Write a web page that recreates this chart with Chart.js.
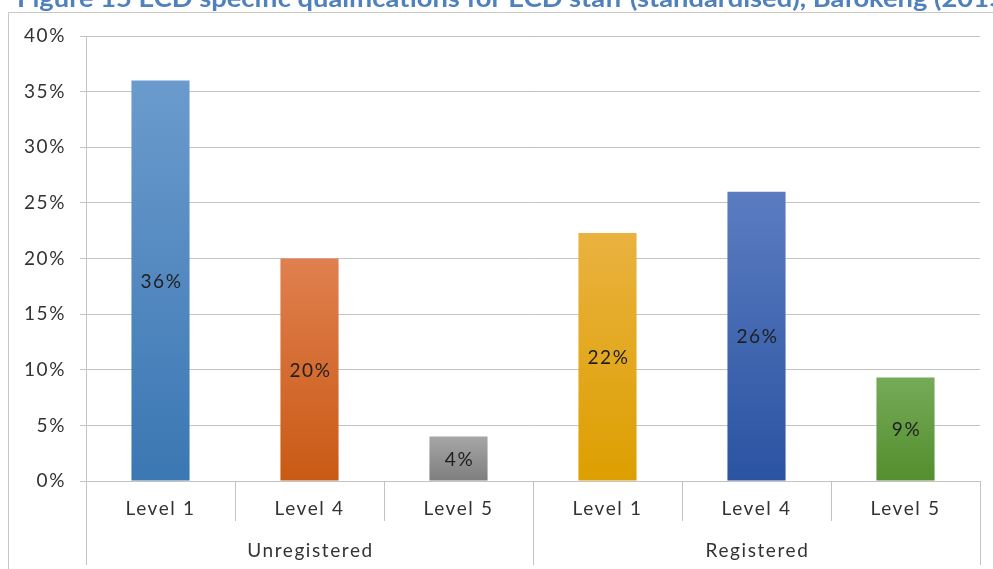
<!DOCTYPE html>
<html>
<head>
<meta charset="utf-8">
<script src="https://cdn.jsdelivr.net/npm/chart.js@4"></script>
<style>
  html, body { margin: 0; padding: 0; background: #ffffff; }
  #wrap { width: 993px; height: 569px; position: relative; }
</style>
</head>
<body>
<div id="wrap"><canvas id="chart" width="993" height="569"></canvas></div>
<script>
// Categories and values
const levels = ['Level 1', 'Level 4', 'Level 5', 'Level 1', 'Level 4', 'Level 5'];
const groups = ['Unregistered', 'Registered'];
const groupSizes = [3, 3];
const shares = [36, 20, 4, 22.3, 26, 9.3];
const yTicks = [0, 5, 10, 15, 20, 25, 30, 35, 40];
const titleText = 'Figure 15 ECD specific qualifications for ECD staff (standardised), Bafokeng (2015)';

// Top/bottom gradient stops for each bar
const barTop = ['#6b9bcd', '#e07f4f', '#a6a6a6', '#e9b23f', '#5b7cc1', '#75aa58'];
const barBottom = ['#3b77b3', '#c95a14', '#7e7e7e', '#dd9f00', '#2a53a1', '#548e2d'];

const FONT = 'Lato, "Open Sans", sans-serif';
const GRID = '#c3c3c3';
const TEXT = '#333333';
const SPACING = '1.6px';

function barGradient(ctx) {
  const chart = ctx.chart;
  const area = chart.chartArea;
  if (!area) return barTop[ctx.dataIndex];
  const y = chart.scales.y;
  const top = y.getPixelForValue(shares[ctx.dataIndex]);
  const bottom = y.getPixelForValue(0);
  const g = chart.ctx.createLinearGradient(0, top, 0, bottom);
  g.addColorStop(0, barTop[ctx.dataIndex]);
  g.addColorStop(1, barBottom[ctx.dataIndex]);
  return g;
}

// Title (partly above the page edge), frame, value labels and grouped axis
const decorations = {
  id: 'decorations',
  beforeDraw(chart) {
    const c = chart.ctx;
    c.save();
    c.letterSpacing = '0px';
    c.fillStyle = '#ffffff';
    c.fillRect(0, 0, chart.width, chart.height);
    // title
    c.font = 'bold 24px ' + FONT;
    c.fillStyle = '#4f81bd';
    c.textBaseline = 'alphabetic';
    const part = titleText.slice(0, titleText.length - 2);
    const w = c.measureText(part).width;
    const sx = 972 / w;
    c.translate(17, 7);
    c.scale(sx, 1);
    c.fillText(titleText, 0, 0);
    c.restore();
    // frame
    c.save();
    c.strokeStyle = '#c8c8c8';
    c.lineWidth = 1;
    c.beginPath();
    c.moveTo(8.5, chart.height);
    c.lineTo(8.5, 12.5);
    c.lineTo(chart.width, 12.5);
    c.stroke();
    c.restore();
    // wider text tracking for every label drawn afterwards
    c.letterSpacing = SPACING;
  },
  afterDatasetsDraw(chart) {
    const c = chart.ctx;
    const meta = chart.getDatasetMeta(0);
    c.save();
    c.font = '19px ' + FONT;
    c.fillStyle = '#1e1e1e';
    c.textAlign = 'center';
    c.textBaseline = 'middle';
    meta.data.forEach((bar, i) => {
      const p = bar.getProps(['x', 'y', 'base'], true);
      c.fillText(Math.round(shares[i]) + '%', p.x + 1, (p.y + p.base) / 2 + 1);
    });
    c.restore();
  },
  afterDraw(chart) {
    const c = chart.ctx;
    const x = chart.scales.x;
    const area = chart.chartArea;
    const base = area.bottom;
    const edge = (i) => {
      if (i <= 0) return area.left;
      if (i >= levels.length) return area.right;
      return (x.getPixelForValue(i - 1) + x.getPixelForValue(i)) / 2;
    };
    c.save();
    c.strokeStyle = GRID;
    c.lineWidth = 1;
    // short separators between levels
    for (let i = 1; i < levels.length; i++) {
      const px = Math.round(edge(i)) + 0.5;
      c.beginPath();
      c.moveTo(px, base);
      c.lineTo(px, base + 40);
      c.stroke();
    }
    // long separators around groups + group labels
    let start = 0;
    c.font = '19px ' + FONT;
    c.fillStyle = TEXT;
    c.textAlign = 'center';
    c.textBaseline = 'middle';
    const bounds = [0];
    groupSizes.forEach(n => { start += n; bounds.push(start); });
    bounds.forEach(b => {
      const px = Math.round(edge(b)) + 0.5;
      c.beginPath();
      c.moveTo(px, base);
      c.lineTo(px, base + 84);
      c.stroke();
    });
    groups.forEach((g, k) => {
      const cx = (edge(bounds[k]) + edge(bounds[k + 1])) / 2;
      c.fillText(g, cx + 1, base + 70);
    });
    c.restore();
  }
};

new Chart(document.getElementById('chart'), {
  type: 'bar',
  data: {
    labels: levels,
    datasets: [{
      data: shares,
      backgroundColor: barGradient,
      borderWidth: 0,
      barPercentage: 0.39,
      categoryPercentage: 1
    }]
  },
  options: {
    responsive: false,
    animation: false,
    events: [],
    layout: { padding: { left: 9, top: 36, right: 13, bottom: 0 } },
    plugins: { legend: { display: false }, tooltip: { enabled: false }, title: { display: false } },
    scales: {
      x: {
        grid: { display: false, drawTicks: false },
        border: { display: true, color: GRID, width: 1 },
        ticks: { font: { family: FONT, size: 19 }, color: TEXT, padding: 16, maxRotation: 0, autoSkip: false },
        afterFit(scale) { scale.height = 88; }
      },
      y: {
        min: 0,
        max: 40,
        afterBuildTicks(scale) { scale.ticks = yTicks.map(v => ({ value: v })); },
        grid: { color: GRID, lineWidth: 1, tickLength: 6 },
        border: { display: true, color: GRID, width: 1 },
        ticks: {
          font: { family: FONT, size: 19 },
          color: TEXT,
          padding: 14,
          callback: v => v + '%'
        },
        afterFit(scale) { scale.width = 77; }
      }
    }
  },
  plugins: [decorations]
});
</script>
</body>
</html>
